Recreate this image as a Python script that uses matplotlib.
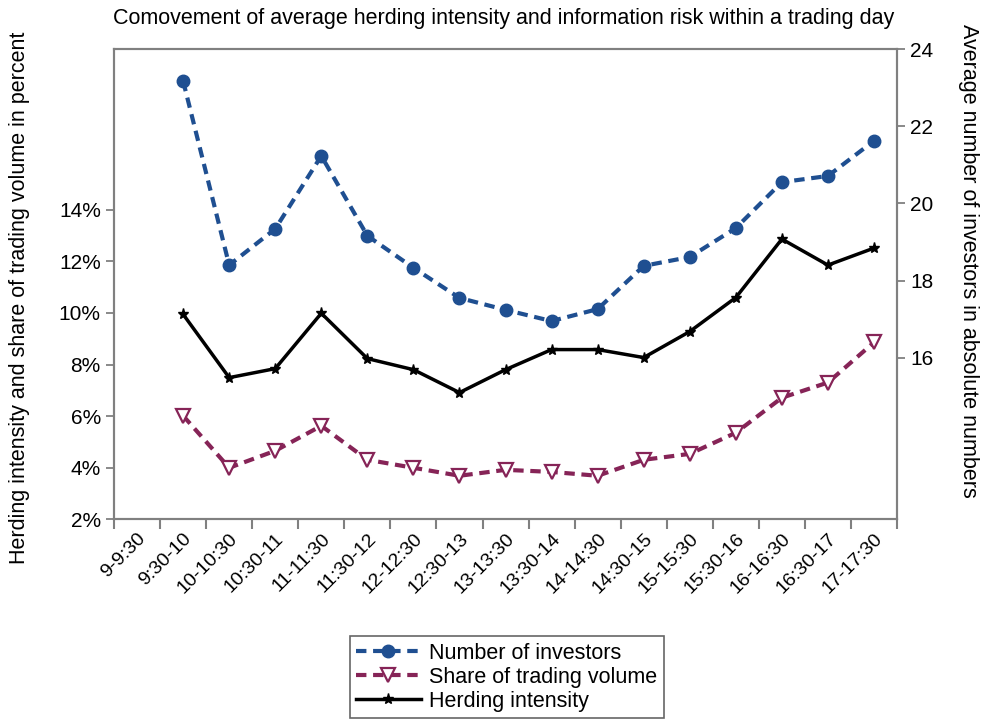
import matplotlib
matplotlib.use('Agg')
from matplotlib import pyplot as plt
import numpy as np

plt.rcParams['font.family'] = ['Liberation Sans', 'DejaVu Sans']

# time slots of the trading day
slots = ['9-9:30', '9:30-10', '10-10:30', '10:30-11', '11-11:30', '11:30-12',
         '12-12:30', '12:30-13', '13-13:30', '13:30-14', '14-14:30', '14:30-15',
         '15-15:30', '15:30-16', '16-16:30', '16:30-17', '17-17:30']

# no data for the first slot
investors = [23.17, 18.40, 19.34, 21.23, 19.16, 18.33, 17.55, 17.24,
             16.95, 17.26, 18.38, 18.61, 19.36, 20.55, 20.71, 21.62]
volume_share = [6.01, 3.99, 4.65, 5.62, 4.30, 3.99, 3.68, 3.91,
                3.83, 3.68, 4.30, 4.53, 5.35, 6.71, 7.30, 8.86]
herding = [9.95, 7.49, 7.84, 9.99, 8.23, 7.80, 6.91, 7.80,
           8.58, 8.58, 8.27, 9.28, 10.60, 12.87, 11.86, 12.52]

blue = '#1f4f91'
maroon = '#862457'
gray = '#808080'

fig = plt.figure(figsize=(9.84, 7.24), dpi=100)
ax = fig.add_axes([0.1159, 0.2831, 0.7957, 0.6492])
ax2 = ax.twinx()

n = len(slots)
xs = np.arange(1, n) + 0.5  # centres of slots 2..17

h1, = ax2.plot(xs, investors, color=blue, lw=3, ls=(0, (2.5, 1.6)),
               marker='o', ms=9, label='Number of investors')
h2, = ax.plot(xs, volume_share, color=maroon, lw=3, ls=(0, (2.5, 1.6)),
              marker='v', ms=10, mfc='white', mew=1.6, label='Share of trading volume')
h3, = ax.plot(xs, herding, color='black', lw=2.5, marker='*', ms=8,
              label='Herding intensity')

ax.set_zorder(ax2.get_zorder() + 1)
ax.patch.set_visible(False)

ax.set_xlim(0, n)
ax.set_ylim(2, 20.25)
ax2.set_ylim(11.82, 24)

ax.set_yticks([2, 4, 6, 8, 10, 12, 14])
ax.set_yticklabels(['%d%%' % v for v in [2, 4, 6, 8, 10, 12, 14]])
ax2.set_yticks([16, 18, 20, 22, 24])

ax.set_xticks(np.arange(0, n + 1))
ax.set_xticklabels([])
ax.set_xticks(np.arange(n) + 0.5, minor=True)
ax.set_xticklabels(slots, minor=True, rotation=45, ha='right',
                   rotation_mode='anchor', fontsize=14)
ax.tick_params(axis='x', which='minor', length=0, pad=8)
ax.tick_params(axis='x', which='major', length=7, width=1.5, color=gray)
ax.tick_params(axis='y', length=6, width=1.3, color=gray, labelsize=15)
ax2.tick_params(axis='y', length=6, width=1.3, color=gray, labelsize=15)

for a in (ax, ax2):
    for s in a.spines.values():
        s.set_color(gray)
        s.set_linewidth(1.5)

ax.set_ylabel('Herding intensity and share of trading volume in percent',
              fontsize=15.5)
ax2.set_ylabel('Average number of investors in absolute numbers',
               fontsize=15.5, rotation=270, va='bottom')
ax.yaxis.set_label_coords(-0.107, 0.47)
ax2.yaxis.set_label_coords(1.078, 0.55)
fig.text(0.512, 0.975, 'Comovement of average herding intensity and information risk within a trading day',
         ha='center', va='center', fontsize=15.5)

leg = fig.legend(handles=[h1, h2, h3], loc='center', bbox_to_anchor=(0.515, 0.0645),
                 fontsize=15.5, frameon=True, fancybox=False, handlelength=3.0,
                 handletextpad=0.4, borderpad=0.3, labelspacing=0.15)
leg.get_frame().set_edgecolor('#404040')
leg.get_frame().set_linewidth(1.2)

fig.savefig('out.png', dpi=100)
